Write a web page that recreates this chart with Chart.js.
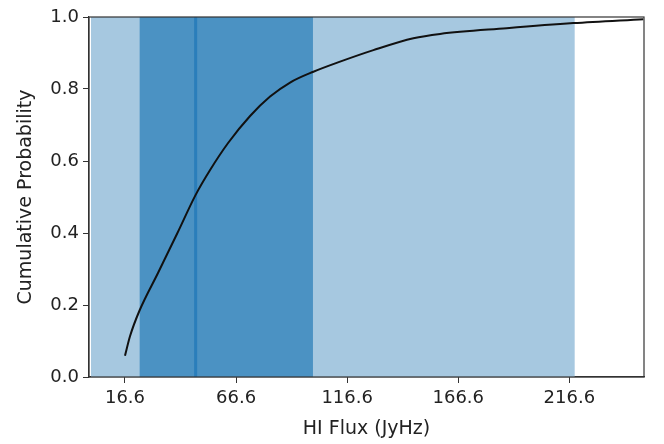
<!DOCTYPE html>
<html>
<head>
<meta charset="utf-8">
<script src="https://cdn.jsdelivr.net/npm/chart.js@4"></script>
<style>
  body { margin: 0; background: #fff; }
  canvas { display: block; }
</style>
</head>
<body>
<canvas id="cdfChart" width="664" height="444"></canvas>
<script>
// HI flux (JyHz) vs cumulative probability
const fluxValues = [16.6, 18.85, 23.1, 31.45, 40.2, 48.4, 54.9, 63.0, 72.9, 81.9, 90.9, 101.4, 113.4, 128.4, 146.4, 158.4, 188.4, 218.4, 249.9];
const cumProb = [0.059, 0.113, 0.184, 0.289, 0.400, 0.506, 0.575, 0.650, 0.725, 0.779, 0.818, 0.848, 0.876, 0.908, 0.941, 0.953, 0.969, 0.983, 0.994];

// shaded intervals and median marker
const outerRange = [1.3, 219.0];
const innerRange = [23.2, 101.2];
const medianFlux = 48.4;

const xTicks = [16.6, 66.6, 116.6, 166.6, 216.6];
const yTicks = [0.0, 0.2, 0.4, 0.6, 0.8, 1.0];

const FONT = "'DejaVu Sans', sans-serif";

const spans = {
    id: 'spans',
    beforeDatasetsDraw(chart) {
        const { ctx, chartArea, scales: { x } } = chart;
        ctx.save();
        ctx.beginPath();
        ctx.rect(chartArea.left, chartArea.top, chartArea.right - chartArea.left, chartArea.bottom - chartArea.top);
        ctx.clip();
        const band = (r, color) => {
            const a = x.getPixelForValue(r[0]);
            const b = x.getPixelForValue(r[1]);
            ctx.fillStyle = color;
            ctx.fillRect(a, chartArea.top, b - a, chartArea.bottom - chartArea.top);
        };
        band(outerRange, 'rgb(166,200,224)');
        band(innerRange, 'rgb(75,146,195)');
        const m = x.getPixelForValue(medianFlux);
        ctx.strokeStyle = 'rgb(42,126,187)';
        ctx.lineWidth = 3;
        ctx.beginPath();
        ctx.moveTo(m, chartArea.top);
        ctx.lineTo(m, chartArea.bottom);
        ctx.stroke();
        ctx.restore();
    },
    afterDraw(chart) {
        // box around the axes
        const { ctx, chartArea } = chart;
        ctx.save();
        ctx.strokeStyle = '#333';
        ctx.lineWidth = 1.2;
        ctx.strokeRect(chartArea.left, chartArea.top, chartArea.right - chartArea.left, chartArea.bottom - chartArea.top);
        ctx.restore();
    }
};

new Chart(document.getElementById('cdfChart').getContext('2d'), {
    type: 'line',
    data: {
        datasets: [{
            data: fluxValues.map((v, i) => ({ x: v, y: cumProb[i] })),
            borderColor: '#111',
            borderWidth: 2,
            pointRadius: 0,
            cubicInterpolationMode: 'monotone',
            fill: false,
            clip: 0
        }]
    },
    options: {
        responsive: false,
        animation: false,
        layout: { padding: { top: 17, right: 20, left: 0, bottom: 0 } },
        plugins: { legend: { display: false }, tooltip: { enabled: false } },
        scales: {
            x: {
                type: 'linear',
                min: 0.4,
                max: 250.2,
                afterBuildTicks: s => { s.ticks = xTicks.map(v => ({ value: v })); },
                afterFit: s => { s.height = 67; },
                ticks: {
                    callback: v => v.toFixed(1),
                    color: '#222',
                    font: { family: FONT, size: 18 },
                    padding: 5,
                    maxRotation: 0
                },
                grid: { drawOnChartArea: false, drawTicks: true, tickLength: 6, color: '#333' },
                border: { display: true, color: '#333', width: 1.2 },
                title: {
                    display: true,
                    text: 'HI Flux (JyHz)',
                    color: '#222',
                    font: { family: FONT, size: 19 },
                    padding: { top: 0, bottom: 4 }
                }
            },
            y: {
                min: 0,
                max: 1,
                afterBuildTicks: s => { s.ticks = yTicks.map(v => ({ value: v })); },
                afterFit: s => { s.width = 89; },
                ticks: {
                    callback: v => v.toFixed(1),
                    color: '#222',
                    font: { family: FONT, size: 18 },
                    padding: 4
                },
                grid: { drawOnChartArea: false, drawTicks: true, tickLength: 6, color: '#333' },
                border: { display: true, color: '#333', width: 1.2 },
                title: {
                    display: true,
                    text: 'Cumulative Probability',
                    color: '#222',
                    font: { family: FONT, size: 19 },
                    padding: { top: 15, bottom: 0 }
                }
            }
        }
    },
    plugins: [spans]
});
</script>
</body>
</html>
